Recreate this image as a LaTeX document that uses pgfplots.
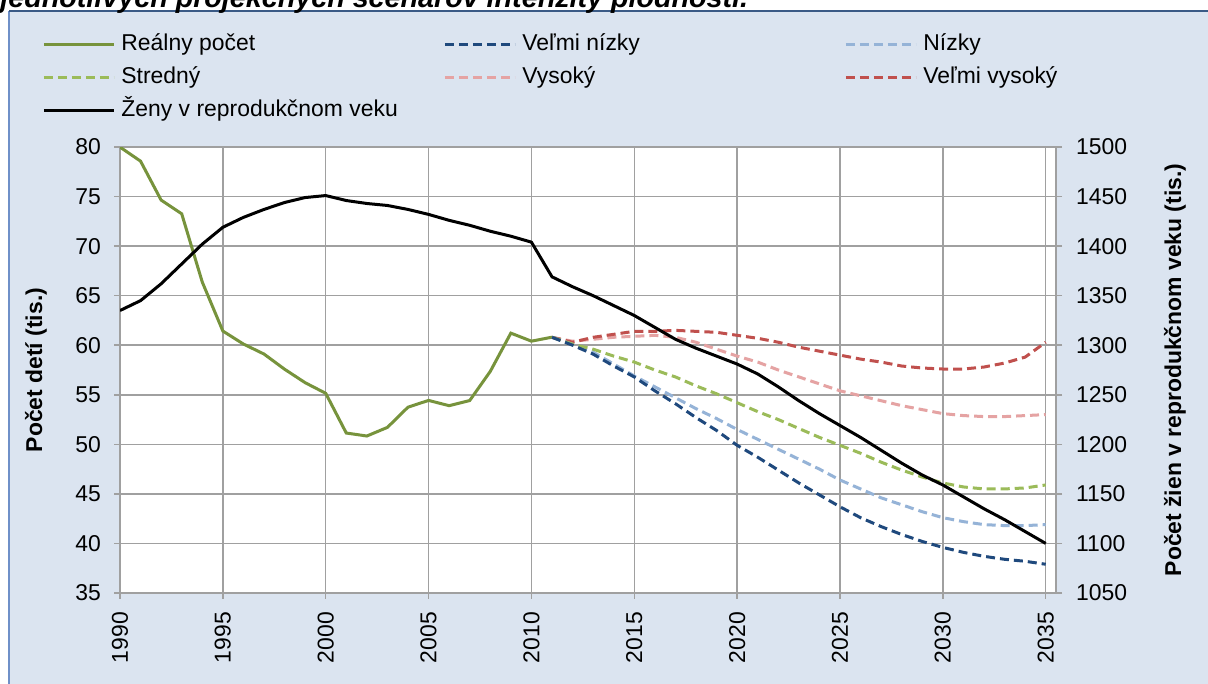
\documentclass[border=0pt]{standalone}
\usepackage{fontspec}
\setmainfont{Liberation Sans}
\usepackage{pgfplots}
\usepackage{pgfplotstable}
\pgfplotsset{compat=1.18}

\definecolor{realGreen}{HTML}{77933C}
\definecolor{vnBlue}{HTML}{1F497D}
\definecolor{nBlue}{HTML}{95B3D7}
\definecolor{sGreen}{HTML}{9BBB59}
\definecolor{vPink}{HTML}{E5A3A3}
\definecolor{vvRed}{HTML}{C0504D}
\definecolor{gridGray}{HTML}{A0A0A0}
\definecolor{panel}{HTML}{DBE4F0}
\definecolor{panelTop}{HTML}{3A5A86}
\definecolor{panelLeft}{HTML}{6F90C8}

\newcommand\tfont{\fontsize{11.5}{13}\selectfont}

% narodeni (tis.)
\pgfplotstableread{
year v
1990 79.99
1991 78.57
1992 74.64
1993 73.26
1994 66.37
1995 61.43
1996 60.12
1997 59.11
1998 57.58
1999 56.22
2000 55.15
2001 51.14
2002 50.84
2003 51.71
2004 53.75
2005 54.43
2006 53.90
2007 54.42
2008 57.36
2009 61.22
2010 60.41
2011 60.81
}\real

% scenare
\pgfplotstableread{
year vn n s v vv
2011 60.8 60.8 60.8 60.8 60.8
2012 60.0 60.1 60.1 60.4 60.3
2013 59.1 59.3 59.6 60.6 60.8
2014 57.9 58.1 58.9 60.8 61.1
2015 56.8 56.9 58.3 60.9 61.4
2016 55.4 55.8 57.5 61.0 61.4
2017 54.1 54.7 56.8 60.8 61.5
2018 52.7 53.6 55.9 60.3 61.4
2019 51.4 52.6 55.1 59.6 61.3
2020 49.9 51.5 54.2 58.9 61.0
2021 48.7 50.5 53.3 58.3 60.7
2022 47.4 49.5 52.5 57.5 60.3
2023 46.1 48.5 51.6 56.8 59.8
2024 44.9 47.5 50.7 56.1 59.4
2025 43.7 46.4 49.9 55.4 59.0
2026 42.6 45.5 49.1 54.9 58.6
2027 41.7 44.6 48.2 54.4 58.3
2028 40.9 43.9 47.4 53.9 57.9
2029 40.2 43.2 46.7 53.5 57.7
2030 39.6 42.6 46.1 53.1 57.6
2031 39.1 42.2 45.7 52.9 57.6
2032 38.7 41.9 45.5 52.8 57.8
2033 38.4 41.8 45.5 52.8 58.2
2034 38.2 41.8 45.6 52.9 58.8
2035 37.9 41.9 45.9 53.0 60.3
}\scen

% zeny v reprodukcnom veku (tis.)
\pgfplotstableread{
year w
1990 1335
1991 1345
1992 1362
1993 1382
1994 1402
1995 1419
1996 1429
1997 1437
1998 1444
1999 1449
2000 1451
2001 1446
2002 1443
2003 1441
2004 1437
2005 1432
2006 1426
2007 1421
2008 1415
2009 1410
2010 1404
2011 1369
2012 1359
2013 1350
2014 1340
2015 1330
2016 1318
2017 1306
2018 1297
2019 1289
2020 1281
2021 1271
2022 1258
2023 1244
2024 1231
2025 1219
2026 1207
2027 1194
2028 1181
2029 1169
2030 1159
2031 1147
2032 1135
2033 1124
2034 1112
2035 1100
}\women

\pgfplotsset{
  base/.style={
    scale only axis, width=468bp, height=223bp,
    xmin=1990, xmax=2035.5,
    tick align=outside, major tick length=3bp,
    axis line style={gridGray, line width=0.75bp},
    major tick style={gridGray, line width=0.75bp},
    /pgf/number format/assume math mode=true,
    /pgf/number format/set thousands separator={},
    ticklabel style={font=\tfont},
    label style={font=\tfont\bfseries},
  },
  proj/.style={line width=1.5bp, dash pattern=on 4.5bp off 2.5bp},
}

\begin{document}
\begin{tikzpicture}
\useasboundingbox (-60bp,-45.5bp) rectangle (544bp,296.5bp);
\begin{scope}[x=0.5bp,y=0.5bp]
\clip (-120,-91) rectangle (1088,593);
\fill[white] (-120,-91) rectangle (1088,593);
\fill[panel] (-111,-91) rectangle (1088,582);
\draw[panelLeft, line width=1bp] (-111,-91) -- (-111,582);
\draw[panelTop, line width=1bp] (-111,582) -- (1088,582);
\node[anchor=base west, inner sep=0pt, font=\fontsize{14.4}{16}\selectfont\bfseries\itshape]
  at (-120,586) {jednotlivých projekčných scenárov intenzity plodnosti.};
\end{scope}

\begin{axis}[base,
  ymin=35, ymax=80,
  xtick={1990,1995,...,2035}, ytick={35,40,...,80},
  axis x line*=bottom, axis y line*=left,
  grid=major, major grid style={gridGray, line width=0.75bp},
  axis background/.style={fill=white},
  xticklabel style={rotate=90, anchor=east, xshift=-3bp},
  yticklabel style={xshift=-3bp},
  ylabel={Počet detí (tis.)},
  ylabel style={at={(axis description cs:-0.0897,0.5)}, anchor=center},
  legend columns=3,
  legend cell align=left,
  legend style={at={(axis description cs:-0.0833,1.258)}, anchor=north west,
    draw=none, fill=none, inner sep=0pt, row sep=4.5bp, column sep=0pt,
    font=\tfont, nodes={inner sep=0pt, text height=9bp, text depth=3bp}},
  legend image code/.code={\draw[#1] (0bp,0bp) -- (35bp,0bp);},
]
\addplot[realGreen, line width=1.5bp, forget plot] table[x=year, y=v]{\real};
\addplot[vPink, proj, forget plot] table[x=year, y=v]{\scen};
\addplot[vvRed, proj, forget plot] table[x=year, y=vv]{\scen};
\addplot[nBlue, proj, forget plot] table[x=year, y=n]{\scen};
\addplot[sGreen, proj, forget plot] table[x=year, y=s]{\scen};
\addplot[vnBlue, proj, forget plot] table[x=year, y=vn]{\scen};

\addlegendimage{realGreen, line width=1.5bp}
\addlegendentry{\makebox[164bp][l]{\hspace{3bp}Reálny počet}}
\addlegendimage{vnBlue, proj}
\addlegendentry{\makebox[164bp][l]{\hspace{3bp}Veľmi nízky}}
\addlegendimage{nBlue, proj}
\addlegendentry{\makebox[164bp][l]{\hspace{3bp}Nízky}}
\addlegendimage{sGreen, proj}
\addlegendentry{\makebox[164bp][l]{\hspace{3bp}Stredný}}
\addlegendimage{vPink, proj}
\addlegendentry{\makebox[164bp][l]{\hspace{3bp}Vysoký}}
\addlegendimage{vvRed, proj}
\addlegendentry{\makebox[164bp][l]{\hspace{3bp}Veľmi vysoký}}
\addlegendimage{black, line width=1.5bp}
\addlegendentry{\makebox[164bp][l]{\hspace{3bp}Ženy v reprodukčnom veku}}
\end{axis}

\begin{axis}[base,
  ymin=1050, ymax=1500, ytick={1050,1100,...,1500},
  axis x line=none, axis y line*=right,
  yticklabel style={xshift=3.5bp},
  ylabel={Počet žien v reprodukčnom veku (tis.)},
  ylabel style={at={(axis description cs:1.127,0.5)}, anchor=center, rotate=0},
]
\addplot[black, line width=1.5bp] table[x=year, y=w]{\women};
\end{axis}
\end{tikzpicture}
\end{document}
